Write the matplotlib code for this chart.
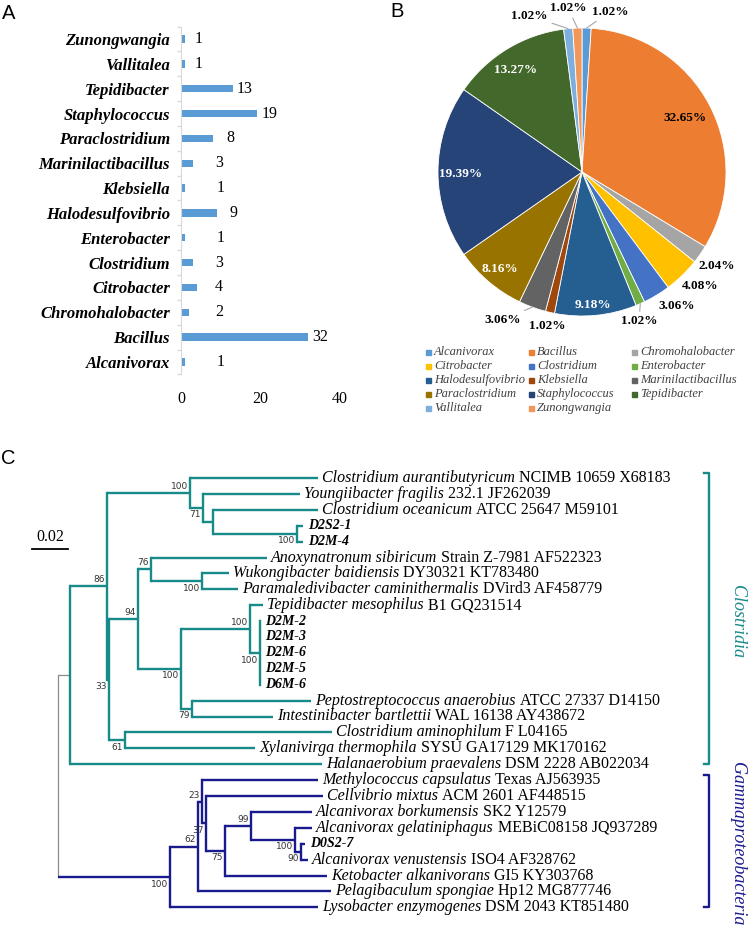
import numpy as np
import matplotlib
matplotlib.use('Agg')
import matplotlib.pyplot as plt
from matplotlib.patches import Rectangle

plt.rcParams['font.family'] = ['Liberation Serif', 'DejaVu Serif']

# --- genus counts (panels A and B)
genera = ['Alcanivorax', 'Bacillus', 'Chromohalobacter', 'Citrobacter', 'Clostridium',
          'Enterobacter', 'Halodesulfovibrio', 'Klebsiella', 'Marinilactibacillus',
          'Paraclostridium', 'Staphylococcus', 'Tepidibacter', 'Vallitalea', 'Zunongwangia']
counts = [1, 32, 2, 4, 3, 1, 9, 1, 3, 8, 19, 13, 1, 1]
genus_colors = ['#5B9BD5', '#ED7D31', '#A5A5A5', '#FFC000', '#4472C4', '#70AD47', '#255E91',
                '#9E480E', '#636363', '#997300', '#264478', '#43682B', '#7CAFDD', '#F1975A']

# --- phylogenetic tree (panel C): tips 0..27, internal nodes 28..51
tip_italic = ['Clostridium aurantibutyricum', 'Youngiibacter fragilis', 'Clostridium oceanicum',
              'D2S2-1', 'D2M-4', 'Anoxynatronum sibiricum', 'Wukongibacter baidiensis',
              'Paramaledivibacter caminithermalis', 'Tepidibacter mesophilus',
              'D2M-2', 'D2M-3', 'D2M-6', 'D2M-5', 'D6M-6',
              'Peptostreptococcus anaerobius', 'Intestinibacter bartlettii',
              'Clostridium aminophilum', 'Xylanivirga thermophila', 'Halanaerobium praevalens',
              'Methylococcus capsulatus', 'Cellvibrio mixtus', 'Alcanivorax borkumensis',
              'Alcanivorax gelatiniphagus', 'D0S2-7', 'Alcanivorax venustensis',
              'Ketobacter alkanivorans', 'Pelagibaculum spongiae', 'Lysobacter enzymogenes']
tip_rest = ['NCIMB 10659 X68183', '232.1 JF262039', 'ATCC 25647 M59101', '', '',
            'Strain Z-7981 AF522323', 'DY30321 KT783480', 'DVird3 AF458779', 'B1 GQ231514',
            '', '', '', '', '', 'ATCC 27337 D14150', 'WAL 16138 AY438672', 'F L04165',
            'SYSU GA17129 MK170162', 'DSM 2228 AB022034', 'Texas AJ563935', 'ACM 2601 AF448515',
            'SK2 Y12579', 'MEBiC08158 JQ937289', '', 'ISO4 AF328762', 'GI5 KY303768',
            'Hp12 MG877746', 'DSM 2043 KT851480']
tip_parent = [31, 32, 33, 34, 34, 37, 38, 38, 40, 41, 41, 41, 41, 41, 42, 42, 43, 43, 29,
              46, 47, 49, 50, 51, 51, 48, 45, 44]
tip_len = [0.0711, 0.0539, 0.0583, 0.0033, 0.0033, 0.0644, 0.0150, 0.0200, 0.0072,
           0.0, 0.0, 0.0, 0.0, 0.0, 0.0661, 0.0450, 0.1150, 0.0722, 0.1400,
           0.0644, 0.0650, 0.0339, 0.0094, 0.0022, 0.0039, 0.0567, 0.0739, 0.0822]
node_parent = [-1, 28, 29, 30, 31, 32, 33, 30, 35, 36, 37, 36, 39, 40, 39, 35,
               28, 44, 45, 46, 47, 48, 49, 50]
node_len = [0.0, 0.0067, 0.0206, 0.0461, 0.0072, 0.0056, 0.0467, 0.0011, 0.0161, 0.0072,
            0.0283, 0.0239, 0.0383, 0.0056, 0.0061, 0.0089,
            0.0622, 0.0156, 0.0022, 0.0022, 0.0106, 0.0144, 0.0244, 0.0033]
node_boot = [None, None, 86, 100, 71, None, 100, 33, 94, 76, 100, 100, 100, 100, 79, 61,
             100, 62, 23, 37, 75, 99, 100, 90]
clades = ['Clostridia', 'Gammaproteobacteria']

W, H = 749, 927
fig = plt.figure(figsize=(W / 100, H / 100), dpi=100)

ov = fig.add_axes([0, 0, 1, 1])
ov.set_xlim(0, W)
ov.set_ylim(H, 0)
ov.axis('off')

for letter, (lx, ly) in zip('ABC', [(9, 13), (397, 11), (8, 458)]):
    ov.text(lx, ly, letter, fontsize=14.5, family='Liberation Sans', ha='center', va='center')

# ---------------- Panel A
axA = fig.add_axes([181 / W, 1 - 374.4 / H, 159 / W, 347.8 / H])
ypos = np.arange(len(genera))
axA.barh(ypos, counts, height=0.3, color='#5B9BD5')
axA.set_xlim(0, 40)
axA.set_ylim(-0.5, len(genera) - 0.5)
axA.set_yticks(ypos)
axA.set_yticklabels(genera, fontstyle='italic', fontweight='bold', fontsize=12)
axA.set_yticks(np.arange(-0.5, len(genera), 1), minor=True)
axA.tick_params(axis='y', which='major', length=0, pad=8)
axA.tick_params(axis='y', which='minor', length=3, color='#D9D9D9', width=1)
axA.set_xticks([0, 20, 40])
axA.tick_params(axis='x', length=0, labelsize=11.5, pad=12)
for s in ['top', 'right', 'bottom']:
    axA.spines[s].set_visible(False)
axA.spines['left'].set_color('#D9D9D9')
value_x = [9, 33, 8.5, 8.5, 8.5, 9, 12.1, 9, 8.5, 11.5, 20.4, 14.1, 3.5, 3.5]
for i, c in enumerate(counts):
    axA.text(value_x[i], i, str(c), ha='left', va='center', fontsize=11.5)

# ---------------- Panel B
R_px = 144
side = 2.4 * R_px
cx, cy = 582, 172
axB = fig.add_axes([(cx - side / 2) / W, 1 - (cy + side / 2) / H, side / W, side / H])
total = sum(counts)
axB.pie(counts, colors=genus_colors, startangle=90, counterclock=False,
        wedgeprops=dict(edgecolor='white', linewidth=0.6))
axB.set_xlim(-1.2, 1.2)
axB.set_ylim(-1.2, 1.2)
axB.set_aspect('equal')

label_r = [1.13, 0.81, 1.144, 1.139, 1.135, 1.111, 0.927, 1.095, 1.165, 0.881, 0.84, 0.843, 1.144, 1.143]
label_dt = [8, 0, 0, -2, -4, 3, 1, 0, 8, 0, -1, -2, -13, -3]
label_col = ['black', 'black', 'black', 'black', 'black', 'black', 'white', 'black', 'black',
             'white', 'white', 'white', 'black', 'black']
leaders = [0, 5, 8, 12, 13]
cum = np.cumsum([0] + counts)
for i, c in enumerate(counts):
    mid = 360 * (cum[i] + c / 2) / total
    th = np.radians(mid + label_dt[i])
    tx, ty = label_r[i] * np.sin(th), label_r[i] * np.cos(th)
    txt = f'{100 * c / total:.2f}%'
    kw = dict(fontsize=9.5, fontweight='bold', color=label_col[i], ha='center', va='center')
    if i in leaders:
        ex, ey = np.sin(np.radians(mid)), np.cos(np.radians(mid))
        axB.annotate(txt, xy=(ex, ey), xytext=(tx, ty),
                     arrowprops=dict(arrowstyle='-', color='#A6A6A6', lw=0.8, shrinkA=1, shrinkB=0),
                     **kw)
    else:
        axB.text(tx, ty, txt, **kw)

# legend, row-major like Excel
for i, g in enumerate(genera):
    row, col = divmod(i, 3)
    lx = 428 + col * 103
    ly = 352 + row * 14
    ov.add_patch(Rectangle((lx - 2.5, ly - 2.5), 5.5, 5.5, color=genus_colors[i]))
    ov.text(lx + 6, ly, g, fontsize=9, fontstyle='italic', color='#404040', va='center', ha='left')

# ---------------- Panel C
px_per_unit = 1800.0
x0_px, y0_px, dy_px = 58, 478, 15.9
axC = fig.add_axes([0, 0, 1, (H - 440) / H])
axC.set_xlim(-x0_px / px_per_unit, (W - x0_px) / px_per_unit)
axC.set_ylim((H - y0_px) / dy_px, (440 - y0_px) / dy_px)
axC.axis('off')

n_tips = len(tip_parent)
parent = tip_parent + node_parent
blen = tip_len + node_len
boot = [None] * n_tips + node_boot
N = len(parent)
children = {i: [] for i in range(N)}
for i, p in enumerate(parent):
    if p >= 0:
        children[p].append(i)

xs = [0.0] * N
for i in list(range(n_tips, N)) + list(range(n_tips)):
    if parent[i] >= 0:
        xs[i] = xs[parent[i]] + blen[i]
ys = [float(i) for i in range(n_tips)] + [0.0] * (N - n_tips)
for i in reversed(range(n_tips, N)):
    cy_ = [ys[c] for c in children[i]]
    ys[i] = (min(cy_) + max(cy_)) / 2

root = n_tips
clade_nodes = [n_tips + 1, n_tips + 16]
clade_colors = ['#178A8A', '#1A1A8F']
gray = '#8C8C8C'


def color_of(i):
    while i >= 0:
        if i in clade_nodes:
            return clade_colors[clade_nodes.index(i)]
        i = parent[i]
    return gray


for i in range(N):
    p = parent[i]
    col = color_of(i)
    if p >= 0:
        stem_col = gray if i == clade_nodes[0] else col
        lw = 0.9 if stem_col == gray else 1.7
        axC.plot([xs[p], xs[i]], [ys[i], ys[i]], color=stem_col, lw=lw, solid_capstyle='butt')
    if children[i]:
        cy_ = [ys[c] for c in children[i]]
        lw = 0.9 if i == root else 1.7
        axC.plot([xs[i], xs[i]], [min(cy_), max(cy_)], color=col if i != root else gray, lw=lw,
                 solid_capstyle='projecting')
    if boot[i] is not None:
        upper = ys[i] < ys[p]
        axC.text(xs[i] - 0.0012, ys[i] + (-0.42 if upper else 0.45), str(boot[i]),
                 fontsize=6.5, family='DejaVu Sans', color='#333333', ha='right', va='center')

gap = 0.0022
for i in range(n_tips):
    if tip_rest[i]:
        t1 = axC.text(xs[i] + gap, ys[i], tip_italic[i], fontsize=11.5, fontstyle='italic',
                      ha='left', va='center')
        axC.annotate(tip_rest[i], xy=(1, 0), xycoords=t1, xytext=(3, 0),
                     textcoords='offset points', fontsize=11.5, ha='left', va='bottom')
    else:
        axC.text(xs[i] + 0.003, ys[i], tip_italic[i], fontsize=10, fontweight='bold',
                 fontstyle='italic', ha='left', va='center')

# scale bar
sb_x = (32 - x0_px) / px_per_unit
sb_y = (549 - y0_px) / dy_px
axC.plot([sb_x, sb_x + 0.02], [sb_y, sb_y], color='black', lw=1.3)
axC.text(sb_x + 0.01, (537 - y0_px) / dy_px, '0.02', fontsize=11.5, ha='center', va='center')

# clade brackets
br_x = (709 - x0_px) / px_per_unit
tick = 5 / px_per_unit
clade_tips = [(0, 18), (19, 27)]
for (a, b), name, col in zip(clade_tips, clades, clade_colors):
    axC.plot([br_x - tick, br_x, br_x, br_x - tick], [a - 0.3, a - 0.3, b, b], color=col, lw=1.7)
    axC.text((737 - x0_px) / px_per_unit, (a + b) / 2, name, rotation=-90, fontsize=13,
             fontstyle='italic', color=col, ha='center', va='center')

fig.savefig('out.png', dpi=100)
